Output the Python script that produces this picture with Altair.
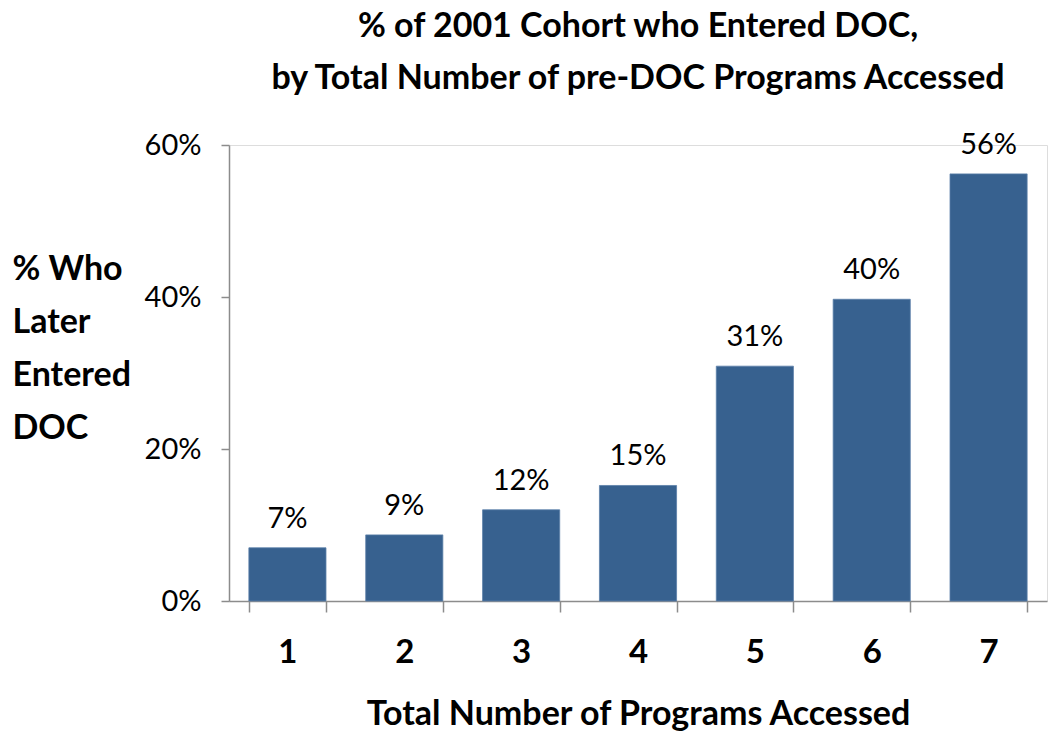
import altair as alt
import pandas as pd

programs = ["1", "2", "3", "4", "5", "6", "7"]
pct_entered = [0.070, 0.087, 0.120, 0.152, 0.309, 0.397, 0.562]
labels = ["7%", "9%", "12%", "15%", "31%", "40%", "56%"]

df = pd.DataFrame({"programs": programs, "pct": pct_entered, "label": labels})

FONT = "Lato"
BLUE = "#37618F"
AXIS_GREY = "#8C8C8C"

x = alt.X(
    "programs:N",
    sort=programs,
    scale=alt.Scale(paddingInner=0.34, paddingOuter=0.17),
    axis=alt.Axis(
        title="Total Number of Programs Accessed",
        titleFont=FONT, titleFontSize=34, titleFontWeight="bold", titleColor="black",
        titleBaseline="alphabetic", titleY=123,
        labelAngle=0, labelFont=FONT, labelFontSize=33, labelFontWeight="bold",
        labelColor="black", labelPadding=24,
        tickBand="extent", tickSize=11, tickColor=AXIS_GREY, tickWidth=1.5,
        domainColor=AXIS_GREY, domainWidth=1.5,
    ),
)

y = alt.Y(
    "pct:Q",
    scale=alt.Scale(domain=[0, 0.6]),
    axis=alt.Axis(
        values=[0, 0.2, 0.4, 0.6], format=".0%", grid=False,
        title=["% Who", "Later", "Entered", "DOC"],
        titleFont=FONT, titleFontSize=34, titleFontWeight="bold", titleColor="black",
        titleAngle=0, titleAlign="left", titleBaseline="alphabetic",
        titleX=-217, titleY=134, titleLineHeight=53,
        labelFont=FONT, labelFontSize=29, labelColor="black", labelPadding=20,
        tickSize=8, tickColor=AXIS_GREY, tickWidth=1.5,
        domainColor=AXIS_GREY, domainWidth=1.5,
    ),
)

bars = alt.Chart(df).mark_bar(color=BLUE, stroke="#5B7FA8", strokeWidth=0.8).encode(x=x, y=y)
text = alt.Chart(df).mark_text(
    baseline="alphabetic", dy=-20, font=FONT, fontSize=29, color="black"
).encode(x=alt.X("programs:N", sort=programs), y="pct:Q", text="label:N")

chart = (bars + text).properties(
    width=818, height=456,
    title=alt.TitleParams(
        text=["% of 2001 Cohort who Entered DOC,", "by Total Number of pre-DOC Programs Accessed"],
        font=FONT, fontSize=34, fontWeight="bold", color="black",
        lineHeight=52, anchor="middle", offset=35,
    ),
    autosize=alt.AutoSizeParams(type="none"),
    padding={"left": 229, "top": 145, "right": 2, "bottom": 131},
).configure_view(stroke=None).configure(background="white")

chart.save("out.html", embed_options={"renderer": "svg", "actions": False})
